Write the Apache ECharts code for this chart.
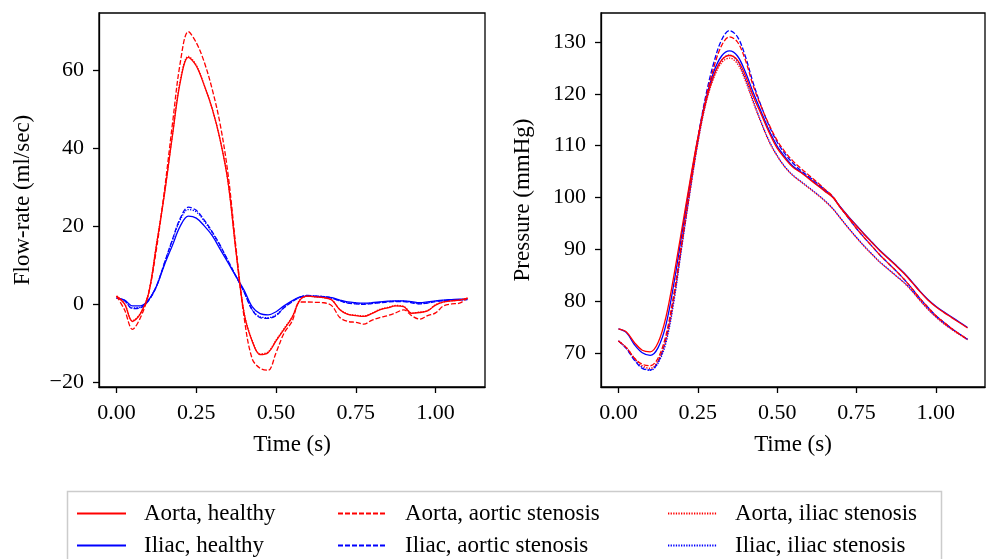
<!DOCTYPE html>
<html><head><meta charset="utf-8">
<script src="https://cdn.jsdelivr.net/npm/echarts@6/dist/echarts.min.js"></script>
<style>html,body{margin:0;padding:0;background:#fff}#c{width:987px;height:559px}</style>
</head><body><div id="c"></div>
<script>
// time points (s)
const time = [0,0.025,0.05,0.075,0.1,0.125,0.15,0.175,0.2,0.225,0.25,0.275,0.3,0.325,0.35,0.375,0.4,0.425,0.45,0.475,0.5,0.525,0.55,0.575,0.6,0.625,0.65,0.675,0.7,0.725,0.75,0.775,0.8,0.825,0.85,0.875,0.9,0.925,0.95,0.975,1.0,1.025,1.05,1.075,1.1];
const xTicks = [0, 0.25, 0.5, 0.75, 1.0];
const flowTicks = [-20, 0, 20, 40, 60];
const pressTicks = [70, 80, 90, 100, 110, 120, 130];
const seriesNames = ["Aorta, healthy","Aorta, aortic stenosis","Aorta, iliac stenosis","Iliac, healthy","Iliac, aortic stenosis","Iliac, iliac stenosis"];

// Flow-rate (ml/sec)
const flowAortaHealthy = [2.0,0,-4.5,-2.5,2.5,15,28,43,57,63.2,61,56,50,42,31,13,-2.5,-9.5,-13,-12.5,-9.5,-6.5,-3.5,1,2.0,1.8,1.6,1.0,-1.5,-2.7,-3.0,-3.2,-2.5,-1.5,-1.0,-0.5,-0.7,-2.4,-2.2,-1.8,-0.3,0.5,0.8,1.0,1.5];
const flowAortaAortic = [2.0,-1.5,-6.5,-3.5,2.5,14,29,46,62,69.8,67,62,55,46,33,14,-3.5,-14,-16.5,-17,-12.5,-7.5,-4.5,0.5,0.5,0.4,0.3,-0.5,-3.5,-4.5,-4.7,-5.2,-4.2,-3.5,-3.0,-2.3,-1.5,-3.0,-3.9,-3.0,-2.3,-0.5,0,0.2,1.5];
const flowAortaIliac = [2.0,0.1,-4.3,-2.4,2.6,15.2,28.3,43.3,57.4,63.5,61.2,56.1,50,42,31,13.2,-2.3,-9.3,-12.8,-12.3,-9.3,-6.3,-3.4,1.1,2.0,1.8,1.6,1.0,-1.4,-2.6,-2.9,-3.1,-2.4,-1.4,-0.9,-0.4,-0.6,-2.3,-2.1,-1.7,-0.2,0.5,0.8,1.0,1.5];
const flowIliacHealthy = [1.5,1.0,-0.5,-0.5,1.0,4.5,10,15,20,22.5,22,20,17.5,14,10.5,7,3.5,-0.7,-2.5,-2.8,-2,-0.5,0.8,1.8,2.0,1.9,1.8,1.6,1.0,0.5,0.3,0.2,0.3,0.5,0.7,0.8,0.8,0.6,0.3,0.5,0.8,1.0,1.1,1.2,1.2];
const flowIliacAortic = [1.5,0.8,-1.2,-1.0,0.8,4.5,10.5,16.5,22,24.8,24,21.5,18.5,15,11,7,3.0,-1.5,-3.5,-3.7,-3.0,-1.0,0.5,1.7,2.2,2.0,1.9,1.5,0.8,0.2,0,-0.1,0.1,0.3,0.5,0.6,0.6,0.3,0,0.2,0.6,0.8,0.9,1.0,1.1];
const flowIliacIliac = [1.5,0.9,-1.0,-0.9,0.9,4.6,10.4,16.2,21.6,24.2,23.6,21.2,18.2,14.8,10.9,7,3.1,-1.4,-3.3,-3.5,-2.8,-0.9,0.6,1.7,2.1,2.0,1.9,1.5,0.8,0.3,0.1,0,0.2,0.4,0.6,0.7,0.7,0.4,0.1,0.3,0.7,0.9,1.0,1.1,1.1];

// Pressure (mmHg)
const presAortaHealthy = [74.6,74,72,70.5,70.2,72,77,85,94,103,111.5,118.5,123.5,126.5,127.4,126.5,123.5,119.5,116,112.5,109.5,107.5,105.8,104.8,103.6,102.4,101.2,100,98,96.2,94.5,92.8,91.2,89.6,88.2,86.8,85.3,83.6,81.8,80.2,78.9,77.8,76.8,75.8,74.8];
const presAortaAortic = [72.3,71,69,67.8,67.5,69,73.5,81.5,91.5,101.5,111,119,125,129.3,131,130,126.5,121.5,117.5,114,111,108.8,107,105.6,104.3,103,101.6,100.2,98,96,94,92.2,90.5,88.8,87.3,85.8,84.2,82.4,80.5,78.8,77.2,75.9,74.7,73.6,72.6];
const presAortaIliac = [72.3,71,69,67.5,67,68.5,72.5,80.5,91,101,110.5,118,123,126,126.9,125.8,122.5,118.3,114.3,110.7,108,105.8,104.2,103,101.8,100.6,99.3,97.8,95.9,94,92.2,90.5,88.9,87.4,86.1,84.8,83.5,81.9,80.1,78.4,76.9,75.6,74.5,73.5,72.5];
const presIliacHealthy = [74.6,73.9,71.6,70.0,69.5,71.0,75.5,83.5,93,102.5,111.3,118.8,124.2,127.3,128.3,127.3,124.2,120.2,116.5,112.9,109.9,107.8,106.0,104.9,103.7,102.5,101.3,100.1,98.1,96.3,94.6,92.9,91.3,89.7,88.3,86.9,85.4,83.7,81.9,80.3,79.0,77.9,76.9,75.9,74.9];
const presIliacAortic = [72.3,70.8,68.6,67.0,66.7,68.3,72.8,81,91.2,101.5,111.3,119.6,125.9,130.4,132.2,131,127.2,122,117.6,113.8,110.7,108.4,106.6,105.2,104,102.8,101.5,100.1,98,96,94,92.2,90.5,88.8,87.3,85.8,84.2,82.4,80.5,78.8,77.2,75.9,74.7,73.6,72.6];
const presIliacIliac = [72.3,70.9,68.8,67.2,66.6,68.0,72.0,80.0,90.6,100.8,110.5,118.2,123.4,126.5,127.5,126.3,122.9,118.6,114.5,110.9,108.1,105.9,104.3,103.1,101.9,100.7,99.4,97.9,96,94.1,92.3,90.6,89,87.5,86.2,84.9,83.6,82,80.2,78.5,77,75.7,74.6,73.6,72.6];

const flowData = [flowAortaHealthy, flowAortaAortic, flowAortaIliac, flowIliacHealthy, flowIliacAortic, flowIliacIliac];
const presData = [presAortaHealthy, presAortaAortic, presAortaIliac, presIliacHealthy, presIliacAortic, presIliacIliac];
const colors = ['#ff0000','#ff0000','#ff0000','#0000ff','#0000ff','#0000ff'];
const dashes = ['solid',[5,2],[1.3,1.3],'solid',[5,2],[1.3,1.3]];

const FONT = 'Liberation Serif';
function pairs(arr){ return time.map((t,i)=>[t, arr[i]]); }
function fmtX(v){ return v.toFixed(2); }
function fmtY(v){ return v < 0 ? '\u2212' + Math.abs(v) : String(v); }

const series = [];
[flowData, presData].forEach((set, g) => {
  set.forEach((arr, i) => {
    series.push({
      name: seriesNames[i], type: 'line', xAxisIndex: g, yAxisIndex: g,
      data: pairs(arr), showSymbol: false, symbol: 'none', smooth: 0.35,
      lineStyle: { color: colors[i], width: 1.3, type: dashes[i] },
      itemStyle: { color: colors[i] }, z: 10 - i, animation: false
    });
  });
});

function xAxis(g){
  return {
    type: 'value', gridIndex: g, min: -0.055, max: 1.155,
    name: 'Time (s)', nameLocation: 'middle', nameGap: 46,
    nameTextStyle: { fontFamily: FONT, fontSize: 23, color: '#000' },
    axisLine: { show: true, onZero: false, lineStyle: { color: '#000', width: 1.3 } },
    axisTick: { show: true, length: 6, customValues: xTicks, lineStyle: { color: '#000', width: 1.3 } },
    axisLabel: { customValues: xTicks, formatter: fmtX, fontFamily: FONT, fontSize: 22, color: '#000', margin: 15 },
    splitLine: { show: false }
  };
}
function yAxis(g, min, max, ticks, name, gap){
  return {
    type: 'value', gridIndex: g, min: min, max: max,
    name: name, nameLocation: 'middle', nameGap: gap, nameRotate: 90,
    nameTextStyle: { fontFamily: FONT, fontSize: 23, color: '#000' },
    axisLine: { show: true, onZero: false, lineStyle: { color: '#000', width: 1.3 } },
    axisTick: { show: true, length: 6, customValues: ticks, lineStyle: { color: '#000', width: 1.3 } },
    axisLabel: { customValues: ticks, formatter: fmtY, fontFamily: FONT, fontSize: 22, color: '#000', margin: 15 },
    splitLine: { show: false }
  };
}

function legendItem(name, left, top){
  return {
    data: [name], orient: 'horizontal', left: left, top: top, padding: 0,
    itemWidth: 49, itemHeight: 20, selectedMode: false,
    itemStyle: { opacity: 0 },
    textStyle: { fontFamily: FONT, fontSize: 23, color: '#000', padding: [0,0,0,13], lineHeight: 20 }
  };
}

const chart = echarts.init(document.getElementById('c'), null, { renderer: 'canvas' });
chart.setOption({
  animation: false,
  backgroundColor: '#fff',
  grid: [
    { left: 99, top: 13, width: 386, height: 374, show: true, borderColor: '#000', borderWidth: 1.3, backgroundColor: 'transparent' },
    { left: 601, top: 13, width: 384, height: 374, show: true, borderColor: '#000', borderWidth: 1.3, backgroundColor: 'transparent' }
  ],
  xAxis: [xAxis(0), xAxis(1)],
  yAxis: [
    yAxis(0, -21.3, 74.6, flowTicks, 'Flow-rate (ml/sec)', 65),
    yAxis(1, 63.4, 135.6, pressTicks, 'Pressure (mmHg)', 67)
  ],
  legend: [
    legendItem(seriesNames[0], 76, 502),
    legendItem(seriesNames[3], 76, 534),
    legendItem(seriesNames[1], 337, 502),
    legendItem(seriesNames[4], 337, 534),
    legendItem(seriesNames[2], 667, 502),
    legendItem(seriesNames[5], 667, 534)
  ],
  graphic: [
    { type: 'rect', shape: { x: 67.5, y: 491.5, width: 874, height: 80 }, style: { fill: 'none', stroke: '#cccccc', lineWidth: 1.5 }, z: -1 }
  ],
  series: series
});
</script>
</body></html>
